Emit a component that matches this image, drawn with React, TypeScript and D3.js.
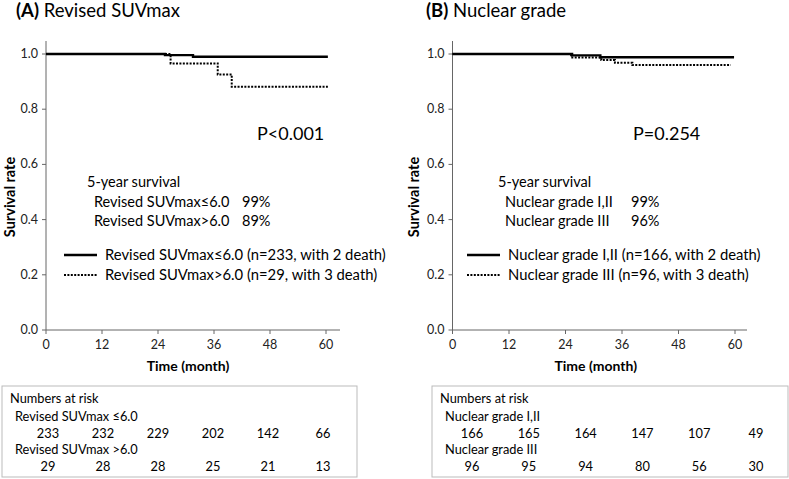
import React from 'react';
import * as d3 from 'd3';

// Kaplan-Meier step points (month, survival)
const monthsA1 = [0, 25.5, 31.5, 60.4];
const survA1 = [1, 0.996, 0.99, 0.99];
const monthsA2 = [0, 26.7, 36.8, 39.8, 60.4];
const survA2 = [1, 0.966, 0.926, 0.881, 0.881];

const monthsB1 = [0, 25.4, 31.4, 59.8];
const survB1 = [1, 0.995, 0.988, 0.988];
const monthsB2 = [0, 25.2, 31.6, 34.5, 38.2, 59.1];
const survB2 = [1, 0.987, 0.978, 0.968, 0.96, 0.96];

const xTicks = [0, 12, 24, 36, 48, 60];
const yTicks = [0, 0.2, 0.4, 0.6, 0.8, 1.0];

const riskA1 = [233, 232, 229, 202, 142, 66];
const riskA2 = [29, 28, 28, 25, 21, 13];
const riskB1 = [166, 165, 164, 147, 107, 49];
const riskB2 = [96, 95, 94, 80, 56, 30];

const FONT = "Lato, 'Open Sans', sans-serif";

interface PanelProps {
  letter: string;
  title: string;
  pValue: string;
  group1: string;
  group2: string;
  five1: string;
  five2: string;
  n1: string;
  n2: string;
  risk1label: string;
  risk2label: string;
  months1: number[];
  surv1: number[];
  months2: number[];
  surv2: number[];
  risk1: number[];
  risk2: number[];
  ox: number;
  xRange: [number, number];
  axisEnd: number;
  riskRange: [number, number];
  box: [number, number];
  fiveX: number;
  fiveValX: number;
  legX: number;
  pX: number;
  yLabelX: number;
}

function Panel(p: PanelProps) {
  const x = d3.scaleLinear().domain([0, 60]).range(p.xRange);
  const y = d3.scaleLinear().domain([0, 1]).range([330, 54]);
  const rx = d3.scaleLinear().domain([0, 60]).range(p.riskRange);
  const line = d3
    .line<[number, number]>()
    .x(d => x(d[0]))
    .y(d => y(d[1]))
    .curve(d3.curveStepAfter);
  const pts1 = p.months1.map((m, i) => [m, p.surv1[i]] as [number, number]);
  const pts2 = p.months2.map((m, i) => [m, p.surv2[i]] as [number, number]);
  const x0 = p.xRange[0];
  const legLine = p.legX;

  return (
    <g fontFamily={FONT}>
      <text x={p.ox} y={17} fontSize={18.5}>
        <tspan fontWeight="bold">{p.letter}</tspan>
        <tspan> {p.title}</tspan>
      </text>

      {/* axes */}
      <line x1={x0} x2={x0} y1={41} y2={330} stroke="#666" strokeWidth={1} />
      <line x1={x0} x2={p.axisEnd} y1={330} y2={330} stroke="#666" strokeWidth={1} />
      {yTicks.map(t => (
        <g key={'y' + t}>
          <line x1={x0 - 4} x2={x0} y1={y(t)} y2={y(t)} stroke="#666" />
          <text x={x0 - 8} y={y(t) + 4} fontSize={12.5} textAnchor="end" fill="#222">
            {t.toFixed(1)}
          </text>
        </g>
      ))}
      {xTicks.map(t => (
        <g key={'x' + t}>
          <line x1={x(t)} x2={x(t)} y1={330} y2={334} stroke="#666" />
          <text x={x(t)} y={349} fontSize={12.5} textAnchor="middle" fill="#222">
            {t}
          </text>
        </g>
      ))}
      <text
        transform={`translate(${p.yLabelX},197) rotate(-90)`}
        fontSize={14.5}
        fontWeight="bold"
        textAnchor="middle"
      >
        Survival rate
      </text>
      <text x={(p.xRange[0] + p.xRange[1]) / 2 + 2} y={371} fontSize={14} fontWeight="bold" textAnchor="middle">
        Time (month)
      </text>

      {/* curves */}
      <path d={line(pts2) || ''} fill="none" stroke="#000" strokeWidth={2} strokeDasharray="2,1.4" />
      <path d={line(pts1) || ''} fill="none" stroke="#000" strokeWidth={2.4} />

      <text x={p.pX} y={140} fontSize={18}>
        {p.pValue}
      </text>

      <text x={p.fiveX} y={187} fontSize={14.5}>5-year survival</text>
      <text x={p.fiveX + 7} y={207} fontSize={14.5}>{p.group1}</text>
      <text x={p.fiveValX} y={207} fontSize={14.5}>{p.five1}</text>
      <text x={p.fiveX + 7} y={226} fontSize={14.5}>{p.group2}</text>
      <text x={p.fiveValX} y={226} fontSize={14.5}>{p.five2}</text>

      <line x1={legLine} x2={legLine + 33} y1={255} y2={255} stroke="#000" strokeWidth={2.4} />
      <line x1={legLine} x2={legLine + 33} y1={275} y2={275} stroke="#000" strokeWidth={2} strokeDasharray="2,1.4" />
      <text x={legLine + 41} y={260} fontSize={14.8}>{p.group1} ({p.n1})</text>
      <text x={legLine + 41} y={280} fontSize={14.8}>{p.group2} ({p.n2})</text>

      {/* numbers at risk */}
      <rect x={p.box[0]} y={386} width={p.box[1] - p.box[0]} height={91} fill="none" stroke="#bbb" strokeWidth={1} />
      <text x={p.box[0] + 8} y={403} fontSize={12.8}>Numbers at risk</text>
      <text x={p.box[0] + 13} y={421} fontSize={12.8}>{p.risk1label}</text>
      {p.risk1.map((v, i) => (
        <text key={'r1' + i} x={rx(xTicks[i])} y={438} fontSize={12.8} textAnchor="middle">{v}</text>
      ))}
      <text x={p.box[0] + 13} y={454} fontSize={12.8}>{p.risk2label}</text>
      {p.risk2.map((v, i) => (
        <text key={'r2' + i} x={rx(xTicks[i])} y={471} fontSize={12.8} textAnchor="middle">{v}</text>
      ))}
    </g>
  );
}

export default function App() {
  return (
    <svg width={789} height={479} style={{ position: 'absolute', left: 0, top: 0, background: '#fff' }}>
      <rect width={789} height={479} fill="#fff" />
      <Panel
        letter="(A)"
        title="Revised SUVmax"
        pValue="P<0.001"
        group1="Revised SUVmax≤6.0"
        group2="Revised SUVmax>6.0"
        five1="99%"
        five2="89%"
        n1="n=233, with 2 death"
        n2="n=29, with 3 death"
        risk1label="Revised SUVmax ≤6.0"
        risk2label="Revised SUVmax >6.0"
        months1={monthsA1}
        surv1={survA1}
        months2={monthsA2}
        surv2={survA2}
        risk1={riskA1}
        risk2={riskA2}
        ox={16}
        xRange={[46, 326]}
        axisEnd={340}
        riskRange={[48, 323]}
        box={[2, 357]}
        fiveX={87}
        fiveValX={242}
        legX={64}
        pX={257}
        yLabelX={15}
      />
      <Panel
        letter="(B)"
        title="Nuclear grade"
        pValue="P=0.254"
        group1="Nuclear grade I,II"
        group2="Nuclear grade III"
        five1="99%"
        five2="96%"
        n1="n=166, with 2 death"
        n2="n=96, with 3 death"
        risk1label="Nuclear grade I,II"
        risk2label="Nuclear grade III"
        months1={monthsB1}
        surv1={survB1}
        months2={monthsB2}
        surv2={survB2}
        risk1={riskB1}
        risk2={riskB2}
        ox={426}
        xRange={[452.5, 735]}
        axisEnd={747}
        riskRange={[472, 756]}
        box={[432, 788]}
        fiveX={498}
        fiveValX={631}
        legX={467}
        pX={633}
        yLabelX={419}
      />
    </svg>
  );
}
